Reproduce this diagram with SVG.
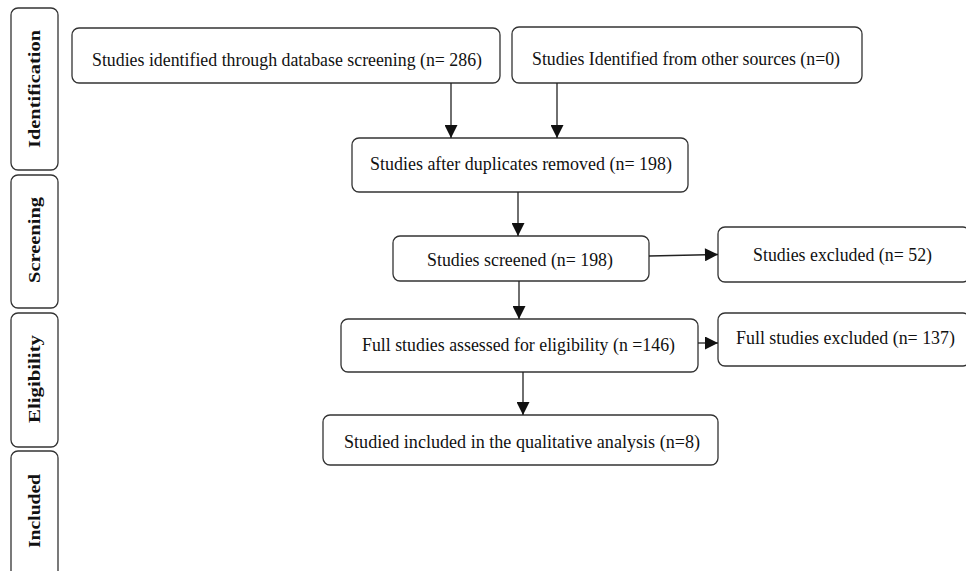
<svg xmlns="http://www.w3.org/2000/svg" width="966" height="571" viewBox="0 0 966 571">
<defs>
<style>
.box{fill:#fff;stroke:#333;stroke-width:1.3}
.t{font-family:"Liberation Serif","Times New Roman",serif;font-size:18.5px;fill:#111}
.tab{font-family:"Liberation Serif","Times New Roman",serif;font-size:16.5px;font-weight:bold;fill:#111}
.c{stroke:#222;stroke-width:1.3;fill:none;marker-end:url(#ah)}
</style>
<marker id="ah" viewBox="0 0 10 10" refX="10" refY="5" markerWidth="14" markerHeight="13" markerUnits="userSpaceOnUse" orient="auto">
<path d="M0,0 L10,5 L0,10 z" fill="#111"/>
</marker>
</defs>
<rect width="966" height="571" fill="#fff"/>
<g id="tab-identification">
<rect class="box" x="11" y="8" width="47" height="162" rx="7"/>
<text class="tab" transform="translate(40,89) rotate(-90)" text-anchor="middle" textLength="118" lengthAdjust="spacingAndGlyphs">Identification</text>
</g>
<g id="tab-screening">
<rect class="box" x="11" y="175" width="47" height="133" rx="7"/>
<text class="tab" transform="translate(40,240) rotate(-90)" text-anchor="middle" textLength="86" lengthAdjust="spacingAndGlyphs">Screening</text>
</g>
<g id="tab-eligibility">
<rect class="box" x="11" y="313" width="47" height="134" rx="7"/>
<text class="tab" transform="translate(40,379) rotate(-90)" text-anchor="middle" textLength="88" lengthAdjust="spacingAndGlyphs">Eligibility</text>
</g>
<g id="tab-included">
<rect class="box" x="11" y="451" width="47" height="130" rx="7"/>
<text class="tab" transform="translate(40,511) rotate(-90)" text-anchor="middle" textLength="74" lengthAdjust="spacingAndGlyphs">Included</text>
</g>
<g id="n1">
<rect class="box" x="72" y="28" width="428" height="55" rx="7"/>
<text class="t" x="92" y="66" textLength="390" lengthAdjust="spacingAndGlyphs">Studies identified through database screening (n= 286)</text>
</g>
<g id="n2">
<rect class="box" x="512" y="27" width="350" height="56" rx="7"/>
<text class="t" x="532" y="65" textLength="308" lengthAdjust="spacingAndGlyphs">Studies Identified from other sources (n=0)</text>
</g>
<g id="n3">
<rect class="box" x="352" y="138" width="336" height="54" rx="7"/>
<text class="t" x="370" y="170" textLength="302" lengthAdjust="spacingAndGlyphs">Studies after duplicates removed (n= 198)</text>
</g>
<g id="n4">
<rect class="box" x="393" y="236" width="256" height="45" rx="7"/>
<text class="t" x="427" y="266" textLength="186" lengthAdjust="spacingAndGlyphs">Studies screened (n= 198)</text>
</g>
<g id="n5">
<rect class="box" x="718" y="227" width="252" height="55" rx="7"/>
<text class="t" x="753" y="261" textLength="179" lengthAdjust="spacingAndGlyphs">Studies excluded (n= 52)</text>
</g>
<g id="n6">
<rect class="box" x="341" y="319" width="357" height="53" rx="7"/>
<text class="t" x="362" y="351" textLength="313" lengthAdjust="spacingAndGlyphs">Full studies assessed for eligibility (n =146)</text>
</g>
<g id="n7">
<rect class="box" x="718" y="313" width="252" height="53" rx="7"/>
<text class="t" x="736" y="344" textLength="219" lengthAdjust="spacingAndGlyphs">Full studies excluded (n= 137)</text>
</g>
<g id="n8">
<rect class="box" x="323" y="415" width="395" height="50" rx="7"/>
<text class="t" x="344" y="448" textLength="356" lengthAdjust="spacingAndGlyphs">Studied included in the qualitative analysis (n=8)</text>
</g>
<g id="connectors">
<line class="c" x1="451" y1="83" x2="451" y2="138"/>
<line class="c" x1="557" y1="83" x2="557" y2="138"/>
<line class="c" x1="518" y1="192" x2="518" y2="236"/>
<line class="c" x1="649" y1="256" x2="718" y2="254.5"/>
<line class="c" x1="519" y1="281" x2="519" y2="319"/>
<line class="c" x1="698" y1="343" x2="718" y2="343"/>
<line class="c" x1="523" y1="372" x2="523" y2="415"/>
</g>
</svg>
